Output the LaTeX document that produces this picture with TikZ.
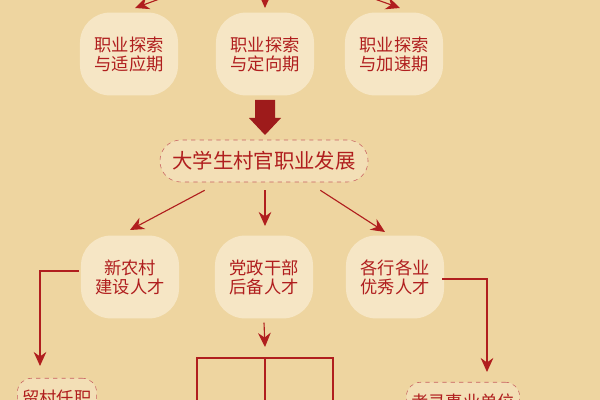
\documentclass[tikz,border=0pt]{standalone}
\usepackage{fontspec}
\setmainfont{Noto Sans CJK SC}
\usetikzlibrary{arrows.meta}
\definecolor{bg}{HTML}{EED5A0}
\definecolor{boxfill}{HTML}{F6E6C5}
\definecolor{darkred}{HTML}{B01E1E}
\begin{document}
\begin{tikzpicture}[x=0.025cm, y=-0.025cm,
    stage/.style={rectangle, rounded corners=0.75cm, fill=boxfill, minimum width=2.45cm, minimum height=2.07cm, align=center, text=darkred, font=\fontsize{12.3}{13.5}\selectfont},
    goal/.style={rectangle, rounded corners=0.5cm, draw=darkred!70, dashed, fill=boxfill!60!bg, align=center, text=darkred},
    arrow/.style={-{Stealth[length=10pt, width=9pt]}, thick, darkred},
    link/.style={thick, darkred}
  ]

  % Background
  \fill[bg] (0,0) rectangle (600,400);
  \useasboundingbox (0,0) rectangle (600,400);
  \clip (0,0) rectangle (600,400);

  % Arrows from above
  \coordinate (top) at (265,-40);
  \draw[arrow] (top) -- (135,8);
  \draw[arrow] (top) -- (265,8);
  \draw[arrow] (top) -- (400,8);

  % Stages
  \node[stage] (s1) at (129,54) {职业探索\\与适应期};
  \node[stage] (s2) at (265,54) {职业探索\\与定向期};
  \node[stage] (s3) at (394,54) {职业探索\\与加速期};

  % Big arrow
  \fill[darkred!90!black] (255,100) -- (275,100) -- (275,118) -- (281,118) -- (265,135) -- (249,118) -- (255,118) -- cycle;

  % Title
  \node[goal, minimum width=5.2cm, minimum height=1.05cm, font=\fontsize{14.5}{16}\selectfont, rounded corners=0.52cm] (main) at (264,161) {大学生村官职业发展};

  % Talents
  \node[stage] (t1) at (130,277) {新农村\\建设人才};
  \node[stage] (t2) at (264,277) {党政干部\\后备人才};
  \node[stage] (t3) at (395,277) {各行各业\\优秀人才};

  \draw[arrow] (main.south west) ++(45,8) coordinate (m1) -- (130,230);
  \draw[arrow] (main.south) ++(1,8) coordinate (m2) -- (265,226);
  \draw[arrow] (main.south east) ++(-48,8) coordinate (m3) -- (385,232);

  % Outcomes
  \node[goal, minimum width=1.98cm, minimum height=1.0cm, font=\fontsize{12.3}{13.5}\selectfont, rounded corners=0.35cm, anchor=north] (o1) at (57,378) {留村任职};
  \node[goal, minimum width=2.48cm, minimum height=1.0cm, font=\fontsize{12.3}{13.5}\selectfont, rounded corners=0.35cm, anchor=north] (o3) at (463,382) {考录事业单位};

  \draw[arrow] (t1.west) ++(-2,-6) -- (40,271) -- (40,366);
  \draw[arrow] (t3.east) ++(-2,2) -- (487,279) -- (487,372);
  \draw[arrow] (t2.south) ++(0,4) -- (265,347);

  % Branches
  \draw[link] (197,410) -- (197,358) -- (333,358) -- (333,410);
  \draw[link] (265,358) -- (265,410);

\end{tikzpicture}
\end{document}
